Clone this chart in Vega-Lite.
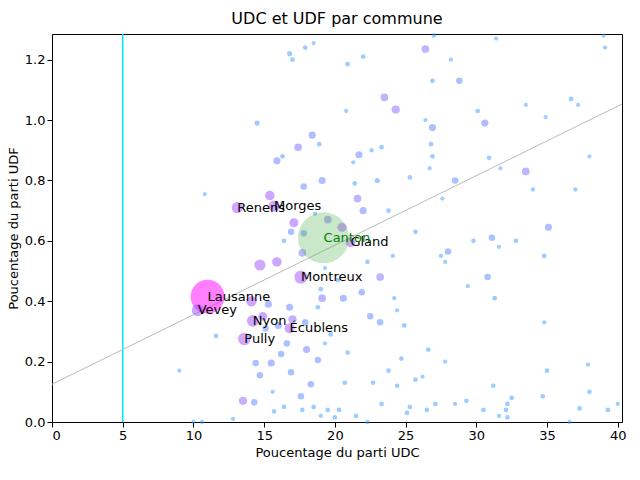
{
  "$schema": "https://vega.github.io/schema/vega-lite/v6.json",
  "width": 570,
  "height": 388,
  "autosize": {"type": "none"},
  "padding": {"left": 52, "top": 34, "right": 18, "bottom": 58},
  "config": {
    "font": "DejaVu Sans",
    "view": {"stroke": "black"},
    "axis": {"grid": false, "labelFontSize": 13, "titleFontSize": 13, "titleFontWeight": "normal", "domainColor": "black", "tickColor": "black", "labelColor": "black", "titleColor": "black"},
    "title": {"fontSize": 16, "fontWeight": "normal", "color": "black", "offset": 6}
  },
  "title": "UDC et UDF par commune",
  "datasets": {
    "pts": [
      {"udc": 13.1, "udf": 0.71, "pop": 14, "label": "Renens"},
      {"udc": 15.7, "udf": 0.715, "pop": 14, "label": "Morges"},
      {"udc": 21.1, "udf": 0.595, "pop": 11, "label": "Gland"},
      {"udc": 17.6, "udf": 0.48, "pop": 20, "label": "Montreux"},
      {"udc": 11.0, "udf": 0.415, "pop": 140, "label": "Lausanne"},
      {"udc": 10.3, "udf": 0.37, "pop": 16, "label": "Vevey"},
      {"udc": 14.2, "udf": 0.335, "pop": 16, "label": "Nyon"},
      {"udc": 16.8, "udf": 0.31, "pop": 11, "label": "Écublens"},
      {"udc": 13.6, "udf": 0.275, "pop": 18, "label": "Pully"},
      {"udc": 15.4, "udf": 0.75, "pop": 10},
      {"udc": 17.1, "udf": 0.66, "pop": 9},
      {"udc": 15.9, "udf": 0.53, "pop": 10},
      {"udc": 14.7, "udf": 0.52, "pop": 14},
      {"udc": 14.1, "udf": 0.40, "pop": 12},
      {"udc": 17.0, "udf": 0.34, "pop": 7},
      {"udc": 14.9, "udf": 0.35, "pop": 8},
      {"udc": 20.5, "udf": 0.645, "pop": 9},
      {"udc": 23.2, "udf": 0.48, "pop": 6},
      {"udc": 24.3, "udf": 1.035, "pop": 7},
      {"udc": 23.5, "udf": 1.075, "pop": 6},
      {"udc": 26.4, "udf": 1.235, "pop": 6},
      {"udc": 26.9, "udf": 0.975, "pop": 5},
      {"udc": 30.6, "udf": 0.99, "pop": 5},
      {"udc": 33.5, "udf": 0.83, "pop": 6},
      {"udc": 35.1, "udf": 0.645, "pop": 5},
      {"udc": 17.4, "udf": 0.91, "pop": 6},
      {"udc": 18.4, "udf": 0.95, "pop": 5},
      {"udc": 17.8, "udf": 0.78, "pop": 4},
      {"udc": 19.1, "udf": 0.80, "pop": 5},
      {"udc": 19.5, "udf": 0.67, "pop": 6},
      {"udc": 21.7, "udf": 0.885, "pop": 5},
      {"udc": 22.0, "udf": 0.70, "pop": 5},
      {"udc": 21.6, "udf": 0.74, "pop": 6},
      {"udc": 15.9, "udf": 0.865, "pop": 5},
      {"udc": 17.7, "udf": 0.56, "pop": 6},
      {"udc": 17.8, "udf": 0.625, "pop": 4},
      {"udc": 16.9, "udf": 0.63, "pop": 4},
      {"udc": 19.1, "udf": 0.41, "pop": 6},
      {"udc": 20.6, "udf": 0.41, "pop": 5},
      {"udc": 21.9, "udf": 0.43, "pop": 4},
      {"udc": 22.5, "udf": 0.35, "pop": 4},
      {"udc": 23.2, "udf": 0.33, "pop": 4},
      {"udc": 28.0, "udf": 0.565, "pop": 4},
      {"udc": 30.8, "udf": 0.48, "pop": 4},
      {"udc": 31.1, "udf": 0.61, "pop": 4},
      {"udc": 28.5, "udf": 0.80, "pop": 4},
      {"udc": 28.8, "udf": 1.13, "pop": 4},
      {"udc": 15.5, "udf": 0.195, "pop": 5},
      {"udc": 16.2, "udf": 0.225, "pop": 4},
      {"udc": 18.0, "udf": 0.24, "pop": 5},
      {"udc": 18.8, "udf": 0.205, "pop": 4},
      {"udc": 13.5, "udf": 0.07, "pop": 7},
      {"udc": 14.3, "udf": 0.065, "pop": 4},
      {"udc": 17.6, "udf": 0.085, "pop": 4},
      {"udc": 18.3, "udf": 0.125, "pop": 4},
      {"udc": 16.9, "udf": 0.165, "pop": 4},
      {"udc": 16.6, "udf": 0.26, "pop": 4},
      {"udc": 16.0, "udf": 0.32, "pop": 5},
      {"udc": 15.1, "udf": 0.31, "pop": 4},
      {"udc": 15.3, "udf": 0.39, "pop": 5},
      {"udc": 14.4, "udf": 0.195, "pop": 4},
      {"udc": 14.7, "udf": 0.155, "pop": 4},
      {"udc": 16.8, "udf": 0.38, "pop": 5},
      {"udc": 17.9, "udf": 0.33, "pop": 4},
      {"udc": 9.0, "udf": 0.17, "pop": 1},
      {"udc": 11.6, "udf": 0.285, "pop": 1.5},
      {"udc": 10.8, "udf": 0.755, "pop": 1},
      {"udc": 10.0, "udf": 0.0, "pop": 1},
      {"udc": 10.6, "udf": 0.0, "pop": 1},
      {"udc": 12.8, "udf": 0.01, "pop": 1},
      {"udc": 14.5, "udf": 0.99, "pop": 2},
      {"udc": 17.9, "udf": 1.24, "pop": 1.5},
      {"udc": 18.5, "udf": 1.255, "pop": 1},
      {"udc": 16.8, "udf": 1.22, "pop": 2},
      {"udc": 17.0, "udf": 1.2, "pop": 1.5},
      {"udc": 20.9, "udf": 1.185, "pop": 1.5},
      {"udc": 22.0, "udf": 1.21, "pop": 1.5},
      {"udc": 23.3, "udf": 0.91, "pop": 1.5},
      {"udc": 22.6, "udf": 0.9, "pop": 1},
      {"udc": 20.8, "udf": 1.03, "pop": 1},
      {"udc": 21.3, "udf": 0.86, "pop": 1},
      {"udc": 21.4, "udf": 0.79, "pop": 1.5},
      {"udc": 18.9, "udf": 0.92, "pop": 1.5},
      {"udc": 16.3, "udf": 0.88, "pop": 1.5},
      {"udc": 19.3, "udf": 0.51, "pop": 1},
      {"udc": 20.2, "udf": 0.47, "pop": 1.5},
      {"udc": 19.0, "udf": 0.44, "pop": 1.5},
      {"udc": 18.8, "udf": 0.38, "pop": 1.5},
      {"udc": 16.4, "udf": 0.6, "pop": 1.5},
      {"udc": 18.6, "udf": 0.69, "pop": 1},
      {"udc": 23.0, "udf": 0.8, "pop": 2},
      {"udc": 23.8, "udf": 0.7, "pop": 1.5},
      {"udc": 22.3, "udf": 0.53, "pop": 1.5},
      {"udc": 25.3, "udf": 0.81, "pop": 1.5},
      {"udc": 26.8, "udf": 0.92, "pop": 1.5},
      {"udc": 26.9, "udf": 0.88, "pop": 1.5},
      {"udc": 26.7, "udf": 0.84, "pop": 1},
      {"udc": 26.4, "udf": 1.0, "pop": 1},
      {"udc": 26.9, "udf": 1.13, "pop": 1.5},
      {"udc": 27.0, "udf": 1.28, "pop": 1.5},
      {"udc": 28.2, "udf": 1.2, "pop": 1},
      {"udc": 25.7, "udf": 0.63, "pop": 1.5},
      {"udc": 27.6, "udf": 0.74, "pop": 1},
      {"udc": 27.5, "udf": 0.55, "pop": 1},
      {"udc": 27.8, "udf": 0.53, "pop": 1},
      {"udc": 29.8, "udf": 0.6, "pop": 1.5},
      {"udc": 29.4, "udf": 0.45, "pop": 1},
      {"udc": 30.1, "udf": 1.03, "pop": 1.5},
      {"udc": 30.9, "udf": 0.875, "pop": 1.5},
      {"udc": 31.7, "udf": 0.84, "pop": 1},
      {"udc": 31.6, "udf": 0.58, "pop": 1},
      {"udc": 31.3, "udf": 0.41, "pop": 1.5},
      {"udc": 32.8, "udf": 0.6, "pop": 1.5},
      {"udc": 33.5, "udf": 1.05, "pop": 1},
      {"udc": 31.4, "udf": 1.27, "pop": 1},
      {"udc": 34.9, "udf": 1.01, "pop": 1},
      {"udc": 34.0, "udf": 0.77, "pop": 1},
      {"udc": 34.8, "udf": 0.55, "pop": 1.5},
      {"udc": 34.8, "udf": 0.33, "pop": 1},
      {"udc": 35.0, "udf": 0.17, "pop": 1.5},
      {"udc": 36.7, "udf": 1.07, "pop": 1.5},
      {"udc": 37.2, "udf": 1.05, "pop": 1},
      {"udc": 38.0, "udf": 0.88, "pop": 1},
      {"udc": 37.0, "udf": 0.77, "pop": 1},
      {"udc": 37.9, "udf": 0.19, "pop": 1},
      {"udc": 38.0, "udf": 0.1, "pop": 1.5},
      {"udc": 39.0, "udf": 1.28, "pop": 1},
      {"udc": 39.1, "udf": 1.24, "pop": 1},
      {"udc": 39.3, "udf": 0.04, "pop": 1.5},
      {"udc": 40.0, "udf": 0.06, "pop": 1},
      {"udc": 37.3, "udf": 0.045, "pop": 1.5},
      {"udc": 34.7, "udf": 0.085, "pop": 1.5},
      {"udc": 32.5, "udf": 0.08, "pop": 1.5},
      {"udc": 32.2, "udf": 0.06, "pop": 1.5},
      {"udc": 32.1, "udf": 0.04, "pop": 1.5},
      {"udc": 32.2, "udf": 0.015, "pop": 1.5},
      {"udc": 31.2, "udf": 0.12, "pop": 1.5},
      {"udc": 31.6, "udf": 0.02, "pop": 1},
      {"udc": 30.5, "udf": 0.04, "pop": 1.5},
      {"udc": 29.3, "udf": 0.07, "pop": 1.5},
      {"udc": 28.5, "udf": 0.06, "pop": 1},
      {"udc": 27.8, "udf": 0.2, "pop": 1},
      {"udc": 27.1, "udf": 0.06, "pop": 1.5},
      {"udc": 26.6, "udf": 0.24, "pop": 1.5},
      {"udc": 26.2, "udf": 0.15, "pop": 1},
      {"udc": 26.5, "udf": 0.04, "pop": 1.5},
      {"udc": 25.7, "udf": 0.14, "pop": 1.5},
      {"udc": 25.3, "udf": 0.05, "pop": 1.5},
      {"udc": 25.1, "udf": 0.03, "pop": 1.5},
      {"udc": 24.7, "udf": 0.21, "pop": 1.5},
      {"udc": 24.9, "udf": 0.32, "pop": 1.5},
      {"udc": 24.4, "udf": 0.37, "pop": 1},
      {"udc": 24.2, "udf": 0.41, "pop": 1},
      {"udc": 24.4, "udf": 0.12, "pop": 1.5},
      {"udc": 23.8, "udf": 0.17, "pop": 1.5},
      {"udc": 23.3, "udf": 0.06, "pop": 1.5},
      {"udc": 22.7, "udf": 0.13, "pop": 1.5},
      {"udc": 22.3, "udf": 0.0, "pop": 1},
      {"udc": 21.5, "udf": 0.02, "pop": 1.5},
      {"udc": 20.9, "udf": 0.23, "pop": 1.5},
      {"udc": 20.7, "udf": 0.13, "pop": 1.5},
      {"udc": 20.3, "udf": 0.04, "pop": 1.5},
      {"udc": 20.0, "udf": 0.015, "pop": 1.5},
      {"udc": 19.5, "udf": 0.04, "pop": 1.5},
      {"udc": 19.0, "udf": 0.02, "pop": 1},
      {"udc": 18.5, "udf": 0.05, "pop": 1.5},
      {"udc": 17.7, "udf": 0.04, "pop": 1.5},
      {"udc": 16.4, "udf": 0.05, "pop": 1.5},
      {"udc": 15.7, "udf": 0.035, "pop": 1.5},
      {"udc": 15.6, "udf": 0.1, "pop": 1},
      {"udc": 19.3, "udf": 0.26, "pop": 1},
      {"udc": 19.7, "udf": 0.29, "pop": 1.5},
      {"udc": 24.1, "udf": 0.55, "pop": 1},
      {"udc": 36.6, "udf": 0.0, "pop": 1}
    ],
    "canton": [{"udc": 19.2, "udf": 0.61, "pop": 400, "label": "Canton"}],
    "diag": [{"x": 0, "y": 0.125, "x2": 40.3, "y2": 1.053}],
    "vline": [{"x": 5}]
  },
  "layer": [
    {
      "data": {"name": "vline"},
      "mark": {"type": "rule", "color": "#00e5ff", "strokeWidth": 1.5},
      "encoding": {"x": {"field": "x", "type": "quantitative", "scale": {"domain": [0, 40.3]}}}
    },
    {
      "data": {"name": "diag"},
      "mark": {"type": "rule", "color": "#bbbbbb", "strokeWidth": 1},
      "encoding": {
        "x": {"field": "x", "type": "quantitative"},
        "y": {"field": "y", "type": "quantitative"},
        "x2": {"field": "x2"},
        "y2": {"field": "y2"}
      }
    },
    {
      "data": {"name": "pts"},
      "mark": {"type": "circle", "opacity": 0.5},
      "encoding": {
        "x": {"field": "udc", "type": "quantitative", "title": "Poucentage du parti UDC", "scale": {"domain": [0, 40.3], "nice": false}, "axis": {"values": [0, 5, 10, 15, 20, 25, 30, 35, 40]}},
        "y": {"field": "udf", "type": "quantitative", "title": "Poucentage du parti UDF", "scale": {"domain": [0, 1.285], "nice": false}, "axis": {"values": [0, 0.2, 0.4, 0.6, 0.8, 1.0, 1.2], "format": ".1f"}},
        "size": {"field": "pop", "type": "quantitative", "legend": null, "scale": {"type": "linear", "domain": [0, 140], "range": [10, 1150]}},
        "color": {"field": "pop", "type": "quantitative", "legend": null, "scale": {"type": "linear", "domain": [1, 8, 140], "range": ["#3ba0ff", "#9a50ff", "#ff00ff"], "clamp": true}}
      }
    },
    {
      "data": {"name": "canton"},
      "mark": {"type": "circle", "opacity": 0.3, "color": "#4cb04c"},
      "encoding": {
        "x": {"field": "udc", "type": "quantitative"},
        "y": {"field": "udf", "type": "quantitative"},
        "size": {"value": 2600}
      }
    },
    {
      "data": {"name": "pts"},
      "transform": [{"filter": "isValid(datum.label)"}],
      "mark": {"type": "text", "align": "left", "baseline": "middle", "fontSize": 13, "color": "black"},
      "encoding": {
        "x": {"field": "udc", "type": "quantitative"},
        "y": {"field": "udf", "type": "quantitative"},
        "text": {"field": "label"}
      }
    },
    {
      "data": {"name": "canton"},
      "mark": {"type": "text", "align": "left", "baseline": "middle", "fontSize": 13, "color": "green"},
      "encoding": {
        "x": {"field": "udc", "type": "quantitative"},
        "y": {"field": "udf", "type": "quantitative"},
        "text": {"field": "label"}
      }
    }
  ]
}
